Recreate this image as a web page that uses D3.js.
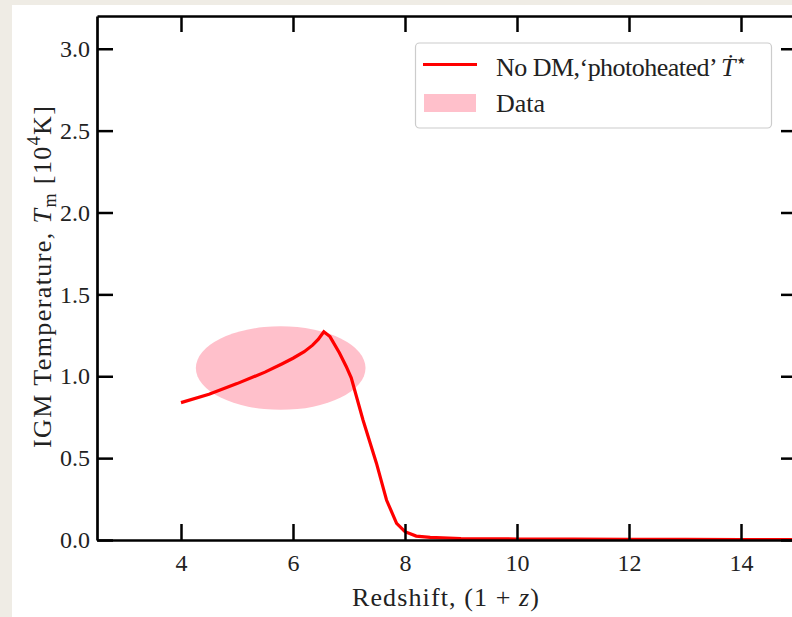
<!DOCTYPE html>
<html>
<head>
<meta charset="utf-8">
<script src="https://cdn.jsdelivr.net/npm/d3@7"></script>
<style>
  html, body { margin: 0; padding: 0; background: #efece5; }
  svg { display: block; }
  text { font-family: "Liberation Serif", "DejaVu Serif", serif; fill: #222; }
</style>
</head>
<body>
<svg id="chart" width="792" height="617"></svg>
<script>
// ---- data ----
const redshift = [4.0, 4.5, 5.0, 5.5, 5.8, 6.0, 6.2, 6.35, 6.45, 6.55, 6.66, 6.83, 6.95, 7.04, 7.25, 7.49, 7.67, 7.85, 8.0, 8.2, 8.45, 9.0, 10, 11, 12, 13, 14, 15];
const temperature = [0.839, 0.89, 0.955, 1.025, 1.075, 1.11, 1.15, 1.19, 1.225, 1.272, 1.242, 1.142, 1.06, 0.99, 0.733, 0.469, 0.244, 0.102, 0.051, 0.024, 0.016, 0.009, 0.006, 0.005, 0.004, 0.004, 0.003, 0.003];
const dataCenter = [5.78, 1.05];   // (1+z, T)
const dataSpan = [3.03, 0.51];     // full width in x, full height in T
const xTicks = [4, 6, 8, 10, 12, 14];
const yTicks = [0.0, 0.5, 1.0, 1.5, 2.0, 2.5, 3.0];
const seriesLabel = "No DM,‘photoheated’ ";
const dataLabel = "Data";

// ---- layout ----
const svg = d3.select("#chart");
const mLeft = 97, mRight = 797, mTop = 16, mBottom = 540;
const x = d3.scaleLinear().domain([2.5, 15]).range([mLeft, mRight]);
const y = d3.scaleLinear().domain([0, 3.2]).range([mBottom, mTop]);

// figure background
svg.append("rect").attr("x", 12).attr("y", 5).attr("width", 800).attr("height", 620).attr("fill", "#ffffff");

const clipId = "plotclip";
svg.append("clipPath").attr("id", clipId).append("rect")
  .attr("x", mLeft).attr("y", mTop).attr("width", mRight - mLeft).attr("height", mBottom - mTop);

const plot = svg.append("g").attr("clip-path", `url(#${clipId})`);

// data ellipse
plot.append("ellipse")
  .attr("cx", x(dataCenter[0])).attr("cy", y(dataCenter[1]))
  .attr("rx", (x(dataCenter[0] + dataSpan[0] / 2) - x(dataCenter[0])))
  .attr("ry", (y(dataCenter[1]) - y(dataCenter[1] + dataSpan[1] / 2)))
  .attr("fill", "pink");

// line
const pts = redshift.map((d, i) => [d, temperature[i]]);
plot.append("path")
  .datum(pts)
  .attr("d", d3.line().x(d => x(d[0])).y(d => y(d[1])))
  .attr("fill", "none").attr("stroke", "#ff0000").attr("stroke-width", 3.2)
  .attr("stroke-linejoin", "miter");

// axes
const tickLen = 16;
const fs = 24;
const xAxisB = d3.axisBottom(x).tickValues(xTicks).tickSizeInner(-tickLen).tickSizeOuter(0).tickPadding(14).tickFormat(d3.format("d"));
const xAxisT = d3.axisTop(x).tickValues(xTicks).tickSizeInner(-tickLen).tickSizeOuter(0).tickFormat("");
const yAxisL = d3.axisLeft(y).tickValues(yTicks).tickSizeInner(-tickLen).tickSizeOuter(0).tickPadding(7).tickFormat(d3.format(".1f"));
const yAxisR = d3.axisRight(y).tickValues(yTicks).tickSizeInner(-tickLen).tickSizeOuter(0).tickFormat("");

function styleAxis(g) {
  g.select(".domain").attr("stroke", "#000").attr("stroke-width", 2.7);
  g.selectAll(".tick line").attr("stroke", "#000").attr("stroke-width", 2.5);
  g.selectAll(".tick text").attr("font-family", "Liberation Serif").attr("font-size", fs).attr("fill", "#222");
}
svg.append("g").attr("transform", `translate(0,${mBottom})`).call(xAxisB).call(styleAxis);
svg.append("g").attr("transform", `translate(0,${mTop})`).call(xAxisT).call(styleAxis);
svg.append("g").attr("transform", `translate(${mLeft},0)`).call(yAxisL).call(styleAxis);
svg.append("g").attr("transform", `translate(${mRight},0)`).call(yAxisR).call(styleAxis);

// x label
const xl = svg.append("text").attr("x", 445.5).attr("y", 606)
  .attr("text-anchor", "middle").attr("font-size", 26)
  .attr("textLength", 187).attr("lengthAdjust", "spacing");
xl.append("tspan").text("Redshift, (1 + ");
xl.append("tspan").attr("font-style", "italic").text("z");
xl.append("tspan").text(")");

// y label
const yl = svg.append("text").attr("transform", "translate(51,277) rotate(-90)")
  .attr("text-anchor", "middle").attr("font-size", 26)
  .attr("textLength", 342).attr("lengthAdjust", "spacing");
yl.append("tspan").text("IGM Temperature, ");
yl.append("tspan").attr("font-style", "italic").text("T");
yl.append("tspan").attr("font-size", 18).attr("dy", 5).text("m");
yl.append("tspan").attr("dy", -5).text(" [10");
yl.append("tspan").attr("font-size", 18).attr("dy", -11).text("4");
yl.append("tspan").attr("dy", 11).text("K]");

// legend
const lg = svg.append("g");
lg.append("rect").attr("x", 415.5).attr("y", 43).attr("width", 356).attr("height", 85)
  .attr("rx", 4).attr("fill", "#fff").attr("fill-opacity", 0.85)
  .attr("stroke", "#cccccc").attr("stroke-width", 1.2);
lg.append("line").attr("x1", 423).attr("x2", 477).attr("y1", 64.5).attr("y2", 64.5)
  .attr("stroke", "#ff0000").attr("stroke-width", 3.2);
lg.append("rect").attr("x", 424).attr("y", 94).attr("width", 52).attr("height", 18).attr("fill", "pink");
const t1 = lg.append("text").attr("x", 496).attr("y", 76).attr("font-size", 26)
  .attr("textLength", 252).attr("lengthAdjust", "spacing");
t1.append("tspan").text(seriesLabel);
t1.append("tspan").attr("font-style", "italic").text("Ṫ");
t1.append("tspan").attr("font-size", 20).attr("dy", -9).text("⋆");
lg.append("text").attr("x", 496).attr("y", 112).attr("font-size", 26).text(dataLabel);
</script>
</body>
</html>
